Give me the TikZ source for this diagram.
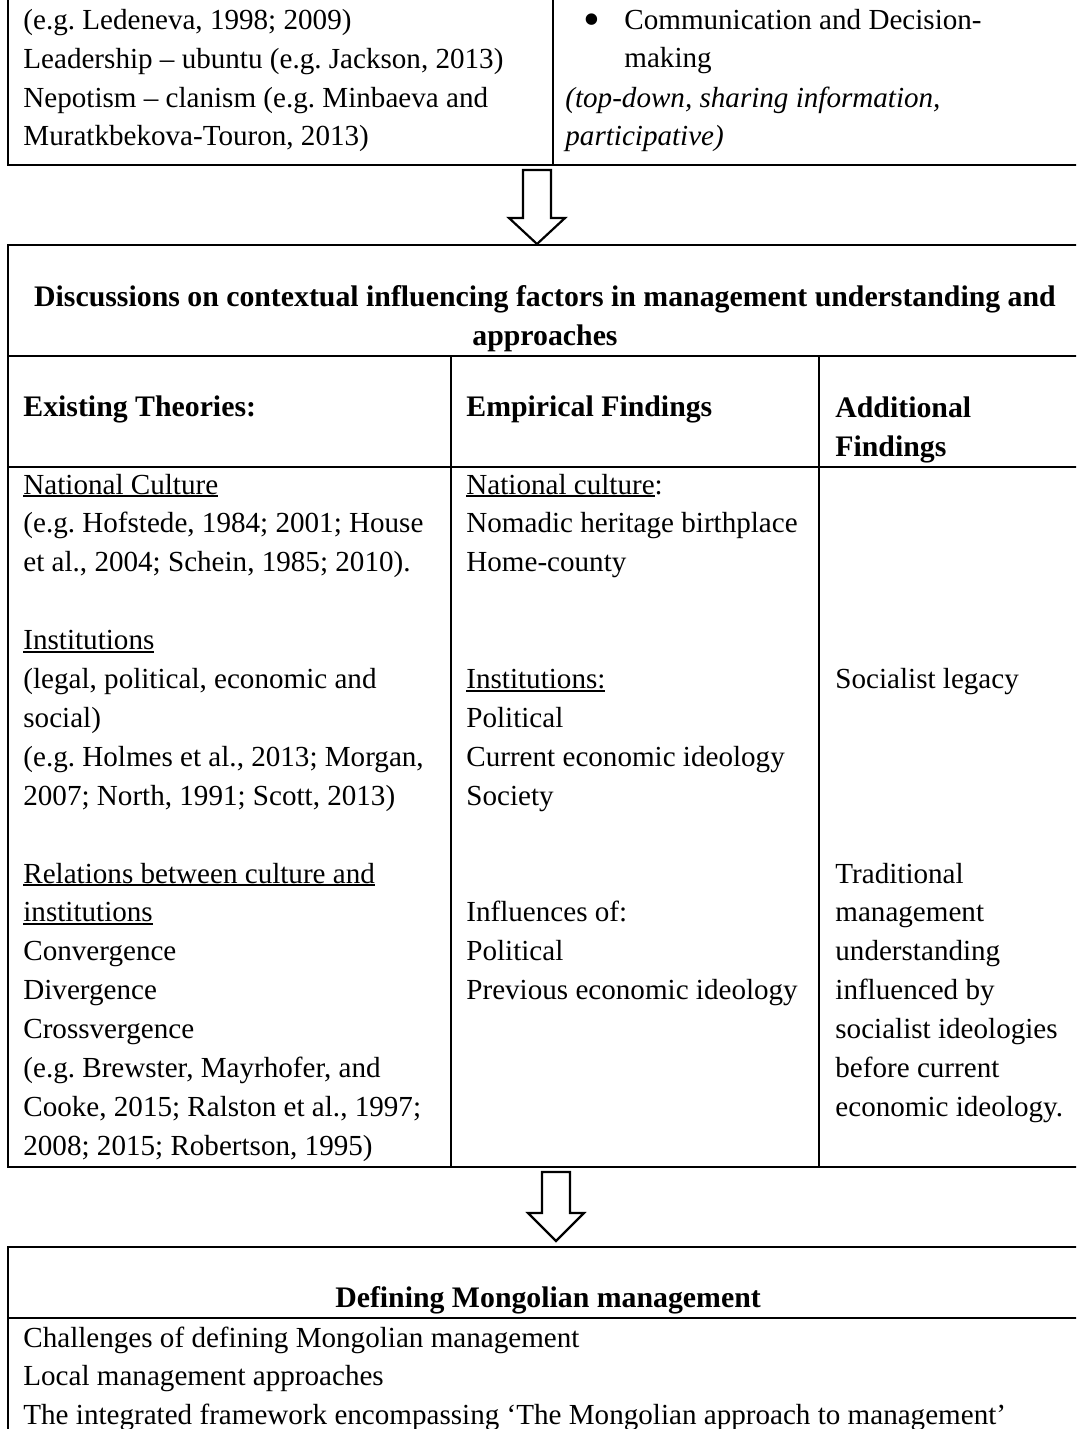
\documentclass[tikz,border=0pt]{standalone}
\usepackage{fontspec}
\setmainfont{Liberation Serif}
\usetikzlibrary{calc}

% underline sitting close to the baseline
\newcommand\ulx[1]{\leavevmode\setbox0\hbox{#1}\rlap{\rule[-1.5pt]{\wd0}{0.8pt}}\box0}
% large list bullet
\newcommand\bigdot{\makebox[23pt][l]{\hspace{2.7pt}\raisebox{-3.3pt}{\fontsize{24}{24}\selectfont •}}}

\begin{document}
\frenchspacing
\begin{tikzpicture}[x=0.5pt,y=-0.5pt,
  rulel/.style={line width=1.4pt},
  % multi-line nodes are placed by the baseline of their last line
  txt/.style={anchor=base west, inner sep=0pt, align=left,
    font=\fontsize{14.55}{19.45}\selectfont},
  bold/.style={txt, font=\fontsize{14.9}{19.45}\selectfont\bfseries},
  title/.style={bold, anchor=base, align=center},
  blockarrow/.style={draw, line width=1.1pt, fill=white, line join=miter}]
\useasboundingbox (0,0) rectangle (1076,1429);
\clip (0,0) rectangle (1076,1429);

% ---------- upper table (continued from above) ----------
\draw[rulel] (8,-20) -- (8,165) -- (1100,165);
\draw[rulel] (553,-20) -- (553,165);
\node[txt] (tl) at (23,146) {(e.g. Ledeneva, 1998; 2009)\\Leadership – ubuntu (e.g. Jackson, 2013)\\Nepotism – clanism (e.g. Minbaeva and\\Muratkbekova-Touron, 2013)};
\node[txt] (tr) at (578,68) {\bigdot Communication and Decision-\\\hspace*{23pt}making};
\node[txt] (tri) at (565,146) {\itshape (top-down, sharing information,\\\itshape participative)};

% ---------- middle table ----------
\draw[rulel] (1100,245) -- (8,245) -- (8,1167) -- (1100,1167);
\draw[rulel] (8,356) -- (1100,356);
\draw[rulel] (8,467) -- (1100,467);
\draw[rulel] (451,356) -- (451,1167);
\draw[rulel] (819,356) -- (819,1167);

\node[title] (t2) at (545,345) {Discussions on contextual influencing factors in management understanding and\\approaches};
\node[bold] (h1) at (23,416) {Existing Theories:};
\node[bold] (h2) at (466,416) {Empirical Findings};
\node[bold] (h3) at (835,456) {Additional\\Findings};

\node[txt] (c1) at (23,1155.3) {\ulx{National Culture}\\
(e.g. Hofstede, 1984; 2001; House\\
et al., 2004; Schein, 1985; 2010).\\[19.45pt]
\ulx{Institutions}\\
(legal, political, economic and\\
social)\\
(e.g. Holmes et al., 2013; Morgan,\\
2007; North, 1991; Scott, 2013)\\[19.45pt]
\ulx{Relations between culture and}\\
\ulx{institutions}\\
Convergence\\
Divergence\\
Crossvergence\\
(e.g. Brewster, Mayrhofer, and\\
Cooke, 2015; Ralston et al., 1997;\\
2008; 2015; Robertson, 1995)};

\node[txt] (c2) at (466,999.7) {\ulx{National culture}:\\
Nomadic heritage birthplace\\
Home-county\\[38.9pt]
\ulx{Institutions:}\\
Political\\
Current economic ideology\\
Society\\[38.9pt]
Influences of:\\
Political\\
Previous economic ideology};

\node[txt] (c3a) at (835,688.5) {Socialist legacy};
\node[txt] (c3b) at (835,1116.4) {Traditional\\management\\understanding\\influenced by\\socialist ideologies\\before current\\economic ideology.};

% ---------- lower box ----------
\draw[rulel] (1100,1247) -- (8,1247) -- (8,1450);
\draw[rulel] (8,1318) -- (1100,1318);
\node[title] (b1) at (548,1307) {Defining Mongolian management};
\node[txt] (b2) at (23,1424.8) {Challenges of defining Mongolian management\\
Local management approaches\\
The integrated framework encompassing ‘The Mongolian approach to management’};

% ---------- block arrows between the parts ----------
\coordinate (a1s) at (537,170);
\coordinate (a1e) at (537,244);
\draw[blockarrow] ($(a1s)+(-14,0)$) -- ($(a1e)+(-14,-26)$) -- ($(a1e)+(-28,-26)$)
  -- (a1e) -- ($(a1e)+(28,-26)$) -- ($(a1e)+(14,-26)$) -- ($(a1s)+(14,0)$) -- cycle;
\coordinate (a2s) at (556,1172);
\coordinate (a2e) at (556,1241);
\draw[blockarrow] ($(a2s)+(-14,0)$) -- ($(a2e)+(-14,-28)$) -- ($(a2e)+(-28,-28)$)
  -- (a2e) -- ($(a2e)+(28,-28)$) -- ($(a2e)+(14,-28)$) -- ($(a2s)+(14,0)$) -- cycle;
\end{tikzpicture}
\end{document}
